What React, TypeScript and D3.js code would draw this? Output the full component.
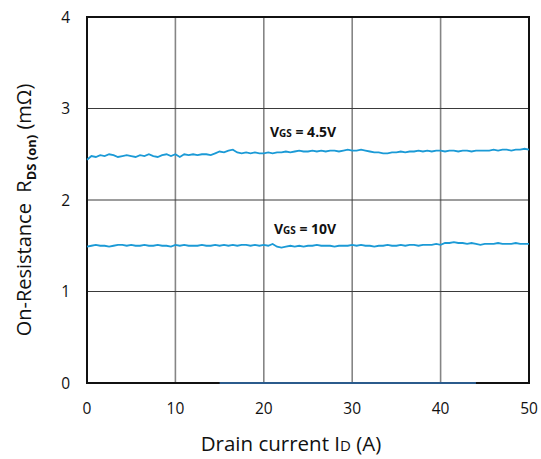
import React from 'react'
import * as d3 from 'd3'

// drain current, 0..50 A in 0.5 A steps
const currents = d3.range(0, 50.01, 0.5)

// On-resistance (mOhm) at VGS = 4.5 V
const rds45 = [
  2.44, 2.48, 2.47, 2.49, 2.48, 2.50, 2.49, 2.47, 2.48, 2.49, 2.48,
  2.47, 2.49, 2.48, 2.50, 2.48, 2.47, 2.49, 2.50, 2.48, 2.50,
  2.47, 2.50, 2.49, 2.50, 2.49, 2.50, 2.50, 2.49, 2.51, 2.53,
  2.52, 2.54, 2.55, 2.52, 2.51, 2.52, 2.51, 2.52, 2.51, 2.51,
  2.52, 2.51, 2.52, 2.52, 2.53, 2.52, 2.53, 2.54, 2.53, 2.53,
  2.54, 2.53, 2.54, 2.53, 2.54, 2.54, 2.53, 2.54, 2.55, 2.54,
  2.54, 2.55, 2.54, 2.53, 2.52, 2.52, 2.51, 2.51, 2.52, 2.52,
  2.53, 2.52, 2.53, 2.53, 2.54, 2.53, 2.54, 2.53, 2.54, 2.54,
  2.53, 2.54, 2.54, 2.53, 2.54, 2.54, 2.53, 2.54, 2.54, 2.54,
  2.54, 2.55, 2.54, 2.55, 2.55, 2.54, 2.55, 2.55, 2.56, 2.55,
]

// On-resistance (mOhm) at VGS = 10 V
const rds10 = [
  1.49, 1.50, 1.51, 1.50, 1.50, 1.49, 1.50, 1.51, 1.51, 1.50, 1.51,
  1.50, 1.50, 1.51, 1.50, 1.50, 1.51, 1.50, 1.50, 1.49, 1.51,
  1.50, 1.51, 1.50, 1.50, 1.50, 1.51, 1.50, 1.50, 1.51, 1.50,
  1.51, 1.50, 1.51, 1.50, 1.51, 1.51, 1.50, 1.51, 1.50, 1.51,
  1.50, 1.52, 1.49, 1.48, 1.49, 1.50, 1.49, 1.50, 1.49, 1.50,
  1.50, 1.51, 1.50, 1.50, 1.50, 1.49, 1.50, 1.50, 1.50, 1.51,
  1.50, 1.51, 1.50, 1.50, 1.49, 1.50, 1.50, 1.51, 1.50, 1.50,
  1.51, 1.50, 1.51, 1.51, 1.50, 1.51, 1.51, 1.51, 1.52, 1.51,
  1.53, 1.53, 1.54, 1.53, 1.53, 1.52, 1.53, 1.52, 1.51, 1.52,
  1.52, 1.52, 1.53, 1.52, 1.52, 1.52, 1.53, 1.52, 1.52, 1.52,
]

// stray trace lying on the zero line
const zeroX = [15, 44]
const zeroY = [0, 0]

const xTicks = [0, 10, 20, 30, 40, 50]
const yTicks = [0, 1, 2, 3, 4]

const W = 541
const H = 459
const margin = { left: 87, right: 12, top: 17, bottom: 76 }
const font = '"Open Sans", "DejaVu Sans", sans-serif'
const lineColor = '#1B9AD6'

export default function App() {
  const x = d3.scaleLinear().domain([0, 50]).range([margin.left, W - margin.right])
  const y = d3.scaleLinear().domain([0, 4]).range([H - margin.bottom, margin.top])

  const line = d3
    .line<[number, number]>()
    .x((d) => x(d[0]))
    .y((d) => y(d[1]))

  const s45 = currents.map((c, i) => [c, rds45[i]] as [number, number])
  const s10 = currents.map((c, i) => [c, rds10[i]] as [number, number])
  const sZero = zeroX.map((c, i) => [c, zeroY[i]] as [number, number])

  const x0 = x(0)
  const x1 = x(50)
  const y0 = y(0)
  const y1 = y(4)

  return (
    <svg
      width={W}
      height={H}
      style={{ position: 'absolute', left: 0, top: 0, background: '#fff' }}
      fontFamily={font}
    >
      {/* grid */}
      {xTicks.slice(1, -1).map((t) => (
        <line key={'vx' + t} x1={x(t)} x2={x(t)} y1={y0} y2={y1} stroke="#858585" strokeWidth={1.6} />
      ))}
      {yTicks.slice(1, -1).map((t) => (
        <line key={'hy' + t} x1={x0} x2={x1} y1={y(t)} y2={y(t)} stroke="#3a3a3a" strokeWidth={1} />
      ))}

      {/* frame */}
      <rect x={x0} y={y1} width={x1 - x0} height={y0 - y1} fill="none" stroke="#111" strokeWidth={2} />

      {/* series */}
      <path d={line(s45) || ''} fill="none" stroke={lineColor} strokeWidth={1.8} />
      <path d={line(s10) || ''} fill="none" stroke={lineColor} strokeWidth={1.8} />
      <path d={line(sZero) || ''} fill="none" stroke="#2B5B8C" strokeWidth={2} />

      {/* tick labels */}
      {yTicks.map((t) => (
        <text key={'yl' + t} x={x0 - 17} y={y(t) + 5.5} textAnchor="end" fontSize={15.5} fill="#111">
          {t}
        </text>
      ))}
      {xTicks.map((t) => (
        <text key={'xl' + t} x={x(t)} y={y0 + 31} textAnchor="middle" fontSize={15.5} fill="#111">
          {t}
        </text>
      ))}

      {/* series labels */}
      <text x={x(20.7)} y={y(2.69)} fontSize={14} fontWeight="bold" fill="#111">
        <tspan>V</tspan>
        <tspan fontSize={10}>GS</tspan>
        <tspan> = 4.5V</tspan>
      </text>
      <text x={x(21.15)} y={y(1.63)} fontSize={14} fontWeight="bold" fill="#111">
        <tspan>V</tspan>
        <tspan fontSize={10}>GS</tspan>
        <tspan> = 10V</tspan>
      </text>

      {/* axis titles */}
      <text x={291} y={451} textAnchor="middle" fontSize={20.5} fill="#111">
        <tspan>Drain current I</tspan>
        <tspan fontSize={15}>D</tspan>
        <tspan> (A)</tspan>
      </text>
      <text
        transform={`translate(31, ${(y0 + y1) / 2 + 10}) rotate(-90)`}
        textAnchor="middle"
        fontSize={20}
        fill="#111"
        style={{ whiteSpace: 'pre' }}
      >
        <tspan>On-Resistance  R</tspan>
        <tspan fontSize={13} fontWeight="bold" dy={5}>DS (on)</tspan>
        <tspan dy={-5}> (mΩ)</tspan>
      </text>
    </svg>
  )
}
